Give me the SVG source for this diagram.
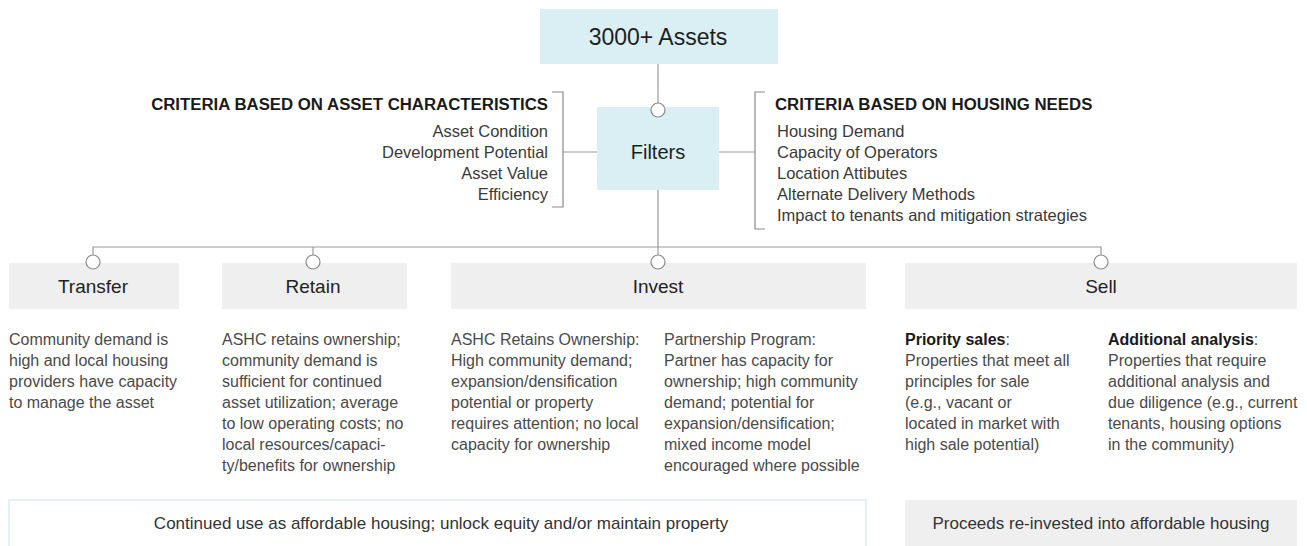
<svg xmlns="http://www.w3.org/2000/svg" width="1307" height="546" viewBox="0 0 1307 546">
  <style>
    text { font-family: "Liberation Sans", Arial, sans-serif; }
    .blue { fill: #d9eff4; }
    .grey { fill: #efefef; }
    .title { font-size: 23px; fill: #1e1e1e; text-anchor: middle; }
    .cat { font-size: 19px; fill: #222; text-anchor: middle; }
    .head { font-size: 16.8px; font-weight: bold; fill: #1a1a1a; }
    .item { font-size: 16.5px; fill: #3a3a3a; }
    .desc { font-size: 16px; fill: #4a4a4a; }
    .foot { font-size: 17px; fill: #333; text-anchor: middle; }
    .line { fill: none; stroke: #9a9a9a; stroke-width: 1.2; }
    .bracket { fill: none; stroke: #8a8a8a; stroke-width: 1.2; }
    .knot { fill: #fff; stroke: #8a8a8a; stroke-width: 1.2; }
  </style>

  <!-- connectors -->
  <g id="connectors">
    <line class="line" x1="658" y1="64" x2="658" y2="104"/>
    <line class="line" x1="658" y1="190" x2="658" y2="255"/>
    <polyline class="line" points="93,255 93,247 1101,247 1101,255"/>
    <line class="line" x1="313" y1="247" x2="313" y2="255"/>
    <line class="line" x1="563" y1="152" x2="597" y2="152"/>
    <line class="line" x1="719" y1="152" x2="755" y2="152"/>
    <polyline class="bracket" points="552,92 563,92 563,207 552,207"/>
    <polyline class="bracket" points="765,92 755,92 755,229 765,229"/>
  </g>

  <!-- top -->
  <g id="assets">
    <rect class="blue" x="540" y="9" width="238" height="55"/>
    <text class="title" x="658" y="45">3000+ Assets</text>
  </g>

  <g id="filters">
    <rect class="blue" x="597" y="107" width="122" height="83"/>
    <text class="title" x="658" y="159" style="font-size:20px">Filters</text>
    <circle class="knot" cx="658" cy="110" r="7"/>
  </g>

  <g id="criteria-asset">
    <text class="head" x="548" y="110" text-anchor="end">CRITERIA BASED ON ASSET CHARACTERISTICS</text>
    <text class="item" x="548" y="137" text-anchor="end">Asset Condition</text>
    <text class="item" x="548" y="158" text-anchor="end">Development Potential</text>
    <text class="item" x="548" y="179" text-anchor="end">Asset Value</text>
    <text class="item" x="548" y="200" text-anchor="end">Efficiency</text>
  </g>

  <g id="criteria-housing">
    <text class="head" x="775" y="110">CRITERIA BASED ON HOUSING NEEDS</text>
    <text class="item" x="777" y="137">Housing Demand</text>
    <text class="item" x="777" y="158">Capacity of Operators</text>
    <text class="item" x="777" y="179">Location Attibutes</text>
    <text class="item" x="777" y="200">Alternate Delivery Methods</text>
    <text class="item" x="777" y="221">Impact to tenants and mitigation strategies</text>
  </g>

  <!-- outcomes -->
  <g id="transfer">
    <rect class="grey" x="9" y="263" width="170" height="46"/>
    <circle class="knot" cx="93" cy="262" r="7"/>
    <text class="cat" x="93" y="293">Transfer</text>
    <text class="desc" x="9" y="345">
      <tspan x="9">Community demand is</tspan>
      <tspan x="9" dy="21">high and local housing</tspan>
      <tspan x="9" dy="21">providers have capacity</tspan>
      <tspan x="9" dy="21">to manage the asset</tspan>
    </text>
  </g>

  <g id="retain">
    <rect class="grey" x="222" y="263" width="185" height="46"/>
    <circle class="knot" cx="313" cy="262" r="7"/>
    <text class="cat" x="313" y="293">Retain</text>
    <text class="desc" x="222" y="345">
      <tspan x="222">ASHC retains ownership;</tspan>
      <tspan x="222" dy="21">community demand is</tspan>
      <tspan x="222" dy="21">sufficient for continued</tspan>
      <tspan x="222" dy="21">asset utilization; average</tspan>
      <tspan x="222" dy="21">to low operating costs; no</tspan>
      <tspan x="222" dy="21">local resources/capaci-</tspan>
      <tspan x="222" dy="21">ty/benefits for ownership</tspan>
    </text>
  </g>

  <g id="invest">
    <rect class="grey" x="451" y="263" width="415" height="46"/>
    <circle class="knot" cx="658" cy="262" r="7"/>
    <text class="cat" x="658" y="293">Invest</text>
    <text class="desc" x="451" y="345">
      <tspan x="451">ASHC Retains Ownership:</tspan>
      <tspan x="451" dy="21">High community demand;</tspan>
      <tspan x="451" dy="21">expansion/densification</tspan>
      <tspan x="451" dy="21">potential or property</tspan>
      <tspan x="451" dy="21">requires attention; no local</tspan>
      <tspan x="451" dy="21">capacity for ownership</tspan>
    </text>
    <text class="desc" x="664" y="345">
      <tspan x="664">Partnership Program:</tspan>
      <tspan x="664" dy="21">Partner has capacity for</tspan>
      <tspan x="664" dy="21">ownership; high community</tspan>
      <tspan x="664" dy="21">demand; potential for</tspan>
      <tspan x="664" dy="21">expansion/densification;</tspan>
      <tspan x="664" dy="21">mixed income model</tspan>
      <tspan x="664" dy="21">encouraged where possible</tspan>
    </text>
  </g>

  <g id="sell">
    <rect class="grey" x="905" y="263" width="392" height="46"/>
    <circle class="knot" cx="1101" cy="262" r="7"/>
    <text class="cat" x="1101" y="293">Sell</text>
    <text class="desc" x="905" y="345">
      <tspan x="905" font-weight="bold" fill="#1a1a1a">Priority sales</tspan><tspan>:</tspan>
      <tspan x="905" dy="21">Properties that meet all</tspan>
      <tspan x="905" dy="21">principles for sale</tspan>
      <tspan x="905" dy="21">(e.g., vacant or</tspan>
      <tspan x="905" dy="21">located in market with</tspan>
      <tspan x="905" dy="21">high sale potential)</tspan>
    </text>
    <text class="desc" x="1108" y="345">
      <tspan x="1108" font-weight="bold" fill="#1a1a1a">Additional analysis</tspan><tspan>:</tspan>
      <tspan x="1108" dy="21">Properties that require</tspan>
      <tspan x="1108" dy="21">additional analysis and</tspan>
      <tspan x="1108" dy="21">due diligence (e.g., current</tspan>
      <tspan x="1108" dy="21">tenants, housing options</tspan>
      <tspan x="1108" dy="21">in the community)</tspan>
    </text>
  </g>

  <!-- results -->
  <g id="result-keep">
    <rect x="9" y="500" width="857" height="60" fill="#fff" stroke="#dcedf2" stroke-width="1.5"/>
    <text class="foot" x="441" y="529">Continued use as affordable housing; unlock equity and/or maintain property</text>
  </g>

  <g id="result-sell">
    <rect class="grey" x="905" y="500" width="392" height="60"/>
    <text class="foot" x="1101" y="529">Proceeds re-invested into affordable housing</text>
  </g>
</svg>
